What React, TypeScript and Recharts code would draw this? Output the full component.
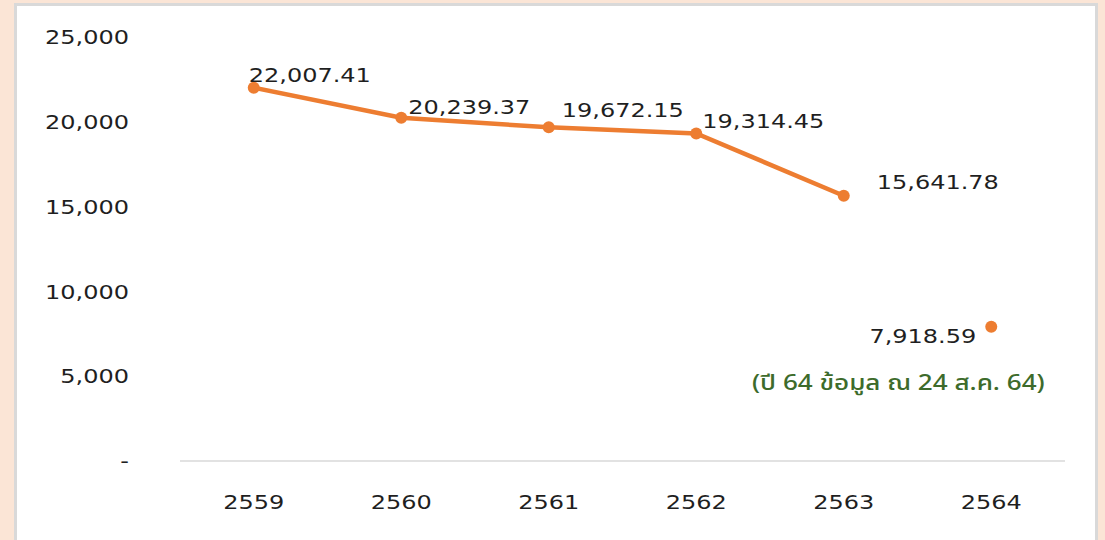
import { ComposedChart, Line, XAxis, YAxis, LabelList } from "recharts";

const years = ["2559", "2560", "2561", "2562", "2563", "2564"];
const trendValues = [22007.41, 20239.37, 19672.15, 19314.45, 15641.78, null];
const latestValues = [null, null, null, null, null, 7918.59];
const yTicks = [0, 5000, 10000, 15000, 20000, 25000];
const noteText = "(ปี 64 ข้อมูล ณ 24 ส.ค. 64)";

const data = years.map((year, i) => ({
  year,
  trend: trendValues[i],
  latest: latestValues[i],
}));

// label placement relative to each point [dx, dy]
const labelOffsets = [
  [-5, -13],
  [7, -11],
  [13, -18],
  [6, -13],
  [33, -14],
  [-15, 9],
];

const ORANGE = "#ed7d31";
const TEXT = "#1f1f1f";
const FONT = "'DejaVu Sans', Verdana, sans-serif";
const STRETCH = 1.2; // the original text is a little wider than DejaVu

const fmtValue = (v: number) =>
  v.toLocaleString("en-US", { minimumFractionDigits: 2, maximumFractionDigits: 2 });

const WideText = ({ x, y, anchor, baseline, dy, children }: any) => (
  <text
    transform={`translate(${x},${y}) scale(${STRETCH},1)`}
    textAnchor={anchor}
    dominantBaseline={baseline}
    dy={dy}
    fill={TEXT}
    fontSize={20}
    fontFamily={FONT}
  >
    {children}
  </text>
);

const ValueLabel = (props: any) => {
  const { x, y, value, index } = props;
  if (value == null) return null;
  const [dx, dy] = labelOffsets[index];
  const isLast = index === years.length - 1;
  return (
    <WideText x={x + dx} y={y + dy} anchor={isLast ? "end" : "start"} baseline="central">
      {fmtValue(value)}
    </WideText>
  );
};

const YTick = ({ x, y, payload }: any) => (
  <WideText x={x} y={y} anchor="end" baseline="central">
    {payload.value === 0 ? "-" : payload.value.toLocaleString("en-US")}
  </WideText>
);

const XTick = ({ x, y, payload }: any) => (
  <WideText x={x} y={y} anchor="middle" dy="0.71em">
    {payload.value}
  </WideText>
);

export default function App() {
  return (
    <div
      style={{
        position: "absolute",
        left: 0,
        top: 0,
        width: 1105,
        height: 540,
        background: "#fbe5d6",
        overflow: "hidden",
      }}
    >
      <div
        style={{
          position: "absolute",
          left: 14,
          top: 3,
          width: 1078,
          height: 560,
          background: "#fff",
          borderLeft: "3px solid #d9d9d9",
          borderTop: "3px solid #d9d9d9",
          borderRight: "3px solid #d9d9d9",
        }}
      />
      <div style={{ position: "absolute", left: 0, top: 0 }}>
        <ComposedChart
          width={1105}
          height={540}
          data={data}
          margin={{ top: 37, right: 40, bottom: 19, left: 0 }}
        >
          <XAxis
            dataKey="year"
            scale="band"
            height={60}
            tickLine={false}
            tickSize={0}
            tickMargin={34}
            axisLine={{ stroke: "#d9d9d9", strokeWidth: 1.5 }}
            tick={<XTick />}
          />
          <YAxis
            width={180}
            domain={[0, 25000]}
            ticks={yTicks}
            axisLine={false}
            tickLine={false}
            tickSize={0}
            tickMargin={51}
            tick={<YTick />}
          />
          <Line
            dataKey="trend"
            stroke={ORANGE}
            strokeWidth={4.5}
            dot={{ r: 6, fill: ORANGE, stroke: "none" }}
            activeDot={false}
            isAnimationActive={false}
          >
            <LabelList dataKey="trend" content={<ValueLabel />} />
          </Line>
          <Line
            dataKey="latest"
            stroke="none"
            dot={{ r: 6, fill: ORANGE, stroke: "none" }}
            activeDot={false}
            isAnimationActive={false}
          >
            <LabelList dataKey="latest" content={<ValueLabel />} />
          </Line>
        </ComposedChart>
      </div>
      <div
        style={{
          position: "absolute",
          left: 752,
          top: 369,
          fontSize: 21,
          fontFamily: "'Noto Sans Thai', 'Noto Sans', Tahoma, sans-serif",
          fontWeight: 500,
          color: "#3d6b2b",
          whiteSpace: "nowrap",
          lineHeight: "30px",
          transform: "scaleX(1.24)",
          transformOrigin: "left center",
        }}
      >
        {noteText}
      </div>
    </div>
  );
}
